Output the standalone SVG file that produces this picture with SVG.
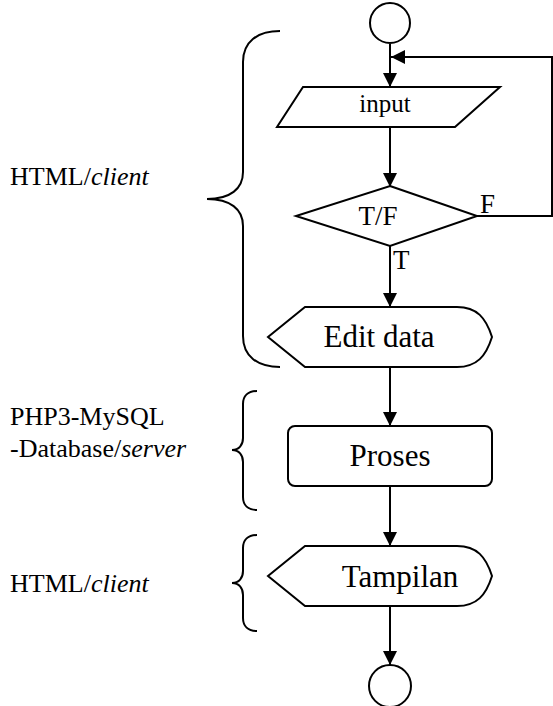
<svg xmlns="http://www.w3.org/2000/svg" width="553" height="706" viewBox="0 0 553 706">
  <style>
    .shape { fill: #fff; stroke: #000; stroke-width: 2; }
    .brace { fill: none; stroke: #000; stroke-width: 2; }
    .wire { fill: none; stroke: #000; stroke-width: 2; }
    .it { font-style: italic; }
  </style>
  <defs>
    <marker id="arrow" viewBox="0 0 14 14" refX="14" refY="7" markerWidth="14" markerHeight="14" markerUnits="userSpaceOnUse" orient="auto">
      <path d="M0,0 L14,7 L0,14 Z" fill="#000"/>
    </marker>
  </defs>

  <rect width="553" height="706" fill="#fff"/>

  <!-- side labels with their braces -->
  <g id="label-client-1">
    <text font-family="Liberation Serif, serif" font-size="26" x="10" y="185">HTML/<tspan class="it">client</tspan></text>
    <path class="brace" d="M280,31 C257,31 243,42 243,62 L243,172 C243,189 230,199 207,199 C230,199 243,209 243,226 L243,336 C243,356 257,367 280,367"/>
  </g>
  <g id="label-server">
    <text font-family="Liberation Serif, serif" font-size="26" x="10" y="425">PHP3-MySQL</text>
    <text font-family="Liberation Serif, serif" font-size="26" x="10" y="457">-Database/<tspan class="it">server</tspan></text>
    <path class="brace" d="M257,391 C248,391 243,396 243,404 L243,438 C243,445 239,450 232,450 C239,450 243,455 243,462 L243,497 C243,505 248,510 257,510"/>
  </g>
  <g id="label-client-2">
    <text font-family="Liberation Serif, serif" font-size="26" x="10" y="592">HTML/<tspan class="it">client</tspan></text>
    <path class="brace" d="M257,535 C248,535 243,540 243,548 L243,571 C243,578 239,583 232,583 C239,583 243,588 243,595 L243,618 C243,626 248,631 257,631"/>
  </g>

  <!-- connectors -->
  <g id="connectors">
    <line class="wire" x1="390" y1="44" x2="390" y2="87" marker-end="url(#arrow)"/>
    <polyline class="wire" points="477,216 552,216 552,57 391,57" marker-end="url(#arrow)"/>
    <line class="wire" x1="390" y1="127" x2="390" y2="187" marker-end="url(#arrow)"/>
    <line class="wire" x1="390" y1="246" x2="390" y2="307" marker-end="url(#arrow)"/>
    <line class="wire" x1="390" y1="367" x2="390" y2="426" marker-end="url(#arrow)"/>
    <line class="wire" x1="390" y1="486" x2="390" y2="546" marker-end="url(#arrow)"/>
    <line class="wire" x1="390" y1="606" x2="390" y2="665" marker-end="url(#arrow)"/>
    <text font-family="Liberation Serif, serif" font-size="27" x="480" y="213">F</text>
    <text font-family="Liberation Serif, serif" font-size="27" x="393" y="269">T</text>
  </g>

  <!-- nodes -->
  <g id="start">
    <circle class="shape" cx="390" cy="23" r="20"/>
  </g>
  <g id="input">
    <polygon class="shape" points="303,87 500,87 455,127 277,127"/>
    <text font-family="Liberation Serif, serif" font-size="25" x="385" y="112" text-anchor="middle">input</text>
  </g>
  <g id="decision">
    <polygon class="shape" points="390,186 477,216 390,246 296,216"/>
    <text font-family="Liberation Serif, serif" font-size="27" x="378" y="225" text-anchor="middle">T/F</text>
  </g>
  <g id="edit-data">
    <path class="shape" d="M305,307 L457,307 C477,307 486,318 492,337 C486,356 477,367 457,367 L305,367 L268,337 Z"/>
    <text font-family="Liberation Serif, serif" font-size="31" x="379" y="347" text-anchor="middle">Edit data</text>
  </g>
  <g id="proses">
    <rect class="shape" x="288" y="426" width="204" height="60" rx="7"/>
    <text font-family="Liberation Serif, serif" font-size="31" x="390" y="466" text-anchor="middle">Proses</text>
  </g>
  <g id="tampilan">
    <path class="shape" d="M305,546 L457,546 C477,546 486,557 492,576 C486,595 477,606 457,606 L305,606 L268,576 Z"/>
    <text font-family="Liberation Serif, serif" font-size="31" x="400" y="587" text-anchor="middle">Tampilan</text>
  </g>
  <g id="end">
    <circle class="shape" cx="390" cy="686" r="21"/>
  </g>
</svg>
